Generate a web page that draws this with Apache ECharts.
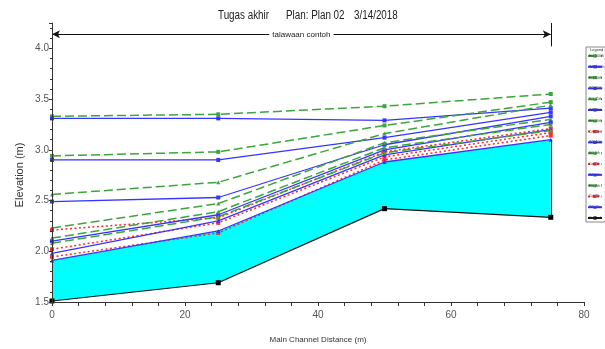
<!DOCTYPE html>
<html>
<head>
<meta charset="utf-8">
<script src="https://cdn.jsdelivr.net/npm/echarts@6/dist/echarts.min.js"></script>
<style>
  html, body { margin: 0; padding: 0; background: #fff; }
  #chart { width: 605px; height: 349px; }
</style>
</head>
<body>
<div id="chart"></div>
<script>
// stations along the main channel (m)
const distances = [0, 25, 50, 75];

// energy grade lines (EG)
const eg100 = [3.33, 3.35, 3.43, 3.55];
const eg50 = [2.94, 2.98, 3.24, 3.47];
const eg25 = [2.56, 2.68, 3.16, 3.44];
const eg10 = [2.23, 2.47, 3.07, 3.30];
const eg5 = [2.13, 2.39, 3.02, 3.25];
const eg2 = [2.08, 2.34, 2.97, 3.19];

// water surfaces (WS)
const ws100 = [3.31, 3.31, 3.29, 3.41];
const ws50 = [2.90, 2.90, 3.12, 3.37];
const ws25 = [2.49, 2.53, 3.05, 3.33];
const ws10 = [2.10, 2.36, 3.00, 3.27];
const ws5 = [1.98, 2.30, 2.95, 3.20];
const ws2 = [1.91, 2.20, 2.88, 3.10];

// critical depth lines
const crit10 = [2.21, 2.33, 2.98, 3.21];
const crit5 = [2.02, 2.28, 2.93, 3.17];
const crit2 = [1.945, 2.18, 2.90, 3.14];

// channel bed
const ground = [1.51, 1.69, 2.42, 2.335];

const xTicks = [0, 20, 40, 60, 80];
const titleParts = ['Tugas akhir', 'Plan: Plan 02', '3/14/2018'];
const reachName = 'talawaan contoh';
const reachTop = 4.14;

const FONT = "'Liberation Sans', Arial, sans-serif";

function pairs(vals) {
  return distances.map(function (d, i) { return [d, vals[i]]; });
}

const styles = {
  EG: { color: '#3ca53c', type: [9, 4], width: 1.5 },
  WS: { color: '#3535ff', type: 'solid', width: 1.3 },
  Crit: { color: '#ff2a2a', type: [2, 2.5], width: 1.5 }
};

function profile(kind, name, vals, symbol) {
  const s = styles[kind];
  return {
    name: kind + ' ' + name,
    type: 'line',
    data: pairs(vals),
    symbol: symbol,
    symbolSize: 4,
    z: 4,
    itemStyle: { color: s.color },
    lineStyle: { color: s.color, type: s.type, width: s.width }
  };
}

const lines = [
  profile('EG', '100th', eg100, 'rect'),
  profile('WS', '100th', ws100, 'rect'),
  profile('EG', '50th', eg50, 'rect'),
  profile('WS', '50th', ws50, 'rect'),
  profile('EG', '25th', eg25, 'triangle'),
  profile('WS', '25th', ws25, 'rect'),
  profile('EG', '10th', eg10, 'triangle'),
  profile('Crit', '10th', crit10, 'rect'),
  profile('WS', '10th', ws10, 'rect'),
  profile('EG', '5th', eg5, 'triangle'),
  profile('Crit', '5th', crit5, 'rect'),
  profile('WS', '5th', ws5, 'triangle'),
  profile('EG', '2th', eg2, 'triangle'),
  profile('Crit', '2th', crit2, 'rect'),
  profile('WS', '2th', ws2, 'triangle')
];

const last = distances.length - 1;

const series = [
  // water body: fill under the lowest water surface, then mask below the bed
  {
    name: 'wet',
    type: 'line',
    data: pairs(ws2),
    symbol: 'none',
    silent: true,
    z: 1,
    lineStyle: { width: 0 },
    areaStyle: { color: '#00ffff', opacity: 1, origin: 'start' }
  },
  {
    name: 'bedMask',
    type: 'line',
    data: pairs(ground),
    symbol: 'none',
    silent: true,
    z: 2,
    lineStyle: { width: 0 },
    areaStyle: { color: '#ffffff', opacity: 1, origin: 'start' },
    markLine: {
      silent: true,
      symbol: 'none',
      label: { show: false },
      data: [
        [{ coord: [distances[last], 1.5], lineStyle: { color: '#fff', type: 'solid', width: 2 } },
         { coord: [distances[last], ground[last]] }],
        [{ coord: [distances[last], ground[last]], lineStyle: { color: '#333', type: 'solid', width: 1 } },
         { coord: [distances[last], ws2[last]] }]
      ]
    }
  }
].concat(lines).concat([
  {
    name: 'Ground',
    type: 'line',
    data: pairs(ground),
    symbol: 'rect',
    symbolSize: 5,
    z: 5,
    itemStyle: { color: '#000' },
    lineStyle: { color: '#111', width: 1.2 },
    markLine: {
      silent: true,
      symbol: ['arrow', 'arrow'],
      symbolSize: [6, 8],
      lineStyle: { color: '#111', type: 'solid', width: 1 },
      label: {
        show: true,
        position: 'middle',
        formatter: reachName,
        fontFamily: FONT,
        fontSize: 8,
        color: '#222',
        backgroundColor: '#fff',
        padding: [1, 3],
        offset: [0, 11]
      },
      data: [
        [{ coord: [distances[0], reachTop] }, { coord: [distances[last], reachTop] }],
        [{ coord: [distances[last], 4.25], symbol: 'none', label: { show: false } },
         { coord: [distances[last], 4.02], symbol: 'none' }]
      ]
    }
  }
]);

function titleText(text, x) {
  return {
    type: 'text', x: x, y: 16, scaleX: 0.82,
    style: { text: text, fontFamily: FONT, fontSize: 12, fill: '#222', verticalAlign: 'middle' }
  };
}

const chart = echarts.init(document.getElementById('chart'));
chart.setOption({
  animation: false,
  backgroundColor: '#fff',
  legend: {
    orient: 'vertical',
    left: 586,
    top: 47,
    padding: [7, 1, 2, 1],
    itemWidth: 14,
    itemHeight: 4,
    itemGap: 6.8,
    borderColor: '#888',
    borderWidth: 1,
    data: lines.map(function (s) { return s.name; }).concat(['Ground']),
    textStyle: { fontFamily: FONT, fontSize: 3.5, color: '#333', padding: [8, 0, 0, -18] }
  },
  graphic: [
    titleText(titleParts[0], 218),
    titleText(titleParts[1], 286),
    titleText(titleParts[2], 354),
    { type: 'text', left: 590, top: 48, style: { text: 'Legend', fontFamily: FONT, fontSize: 4, fill: '#333' } },
    { type: 'text', x: 20, y: 175, rotation: Math.PI / 2,
      style: { text: 'Elevation (m)', fontFamily: FONT, fontSize: 11,
               fill: '#333', align: 'center', verticalAlign: 'middle' } }
  ],
  grid: { left: 52, right: 21, top: 23, bottom: 47 },
  xAxis: {
    type: 'value',
    z: 10,
    min: xTicks[0],
    max: xTicks[xTicks.length - 1],
    interval: 20,
    name: 'Main Channel Distance (m)',
    nameLocation: 'middle',
    nameGap: 34,
    nameTextStyle: { fontFamily: FONT, fontSize: 8, color: '#333' },
    axisLine: { lineStyle: { color: '#333', width: 1 } },
    axisTick: { length: 4, lineStyle: { color: '#333' } },
    minorTick: { show: true, splitNumber: 5, length: 4, lineStyle: { color: '#333' } },
    axisLabel: { margin: 8, fontFamily: FONT, fontSize: 10, color: '#555' },
    splitLine: { show: false }
  },
  yAxis: {
    type: 'value',
    z: 10,
    min: 1.5,
    max: 4.25,
    interval: 0.5,
    axisLine: { show: true, lineStyle: { color: '#333', width: 1 } },
    axisTick: { show: true, length: 3, lineStyle: { color: '#333' } },
    minorTick: { show: true, splitNumber: 5, length: 2, lineStyle: { color: '#333' } },
    axisLabel: {
      margin: 3, fontFamily: FONT, fontSize: 10, color: '#555', showMaxLabel: false,
      formatter: function (v) { return v.toFixed(1); }
    },
    splitLine: { show: false }
  },
  series: series
});
</script>
</body>
</html>
